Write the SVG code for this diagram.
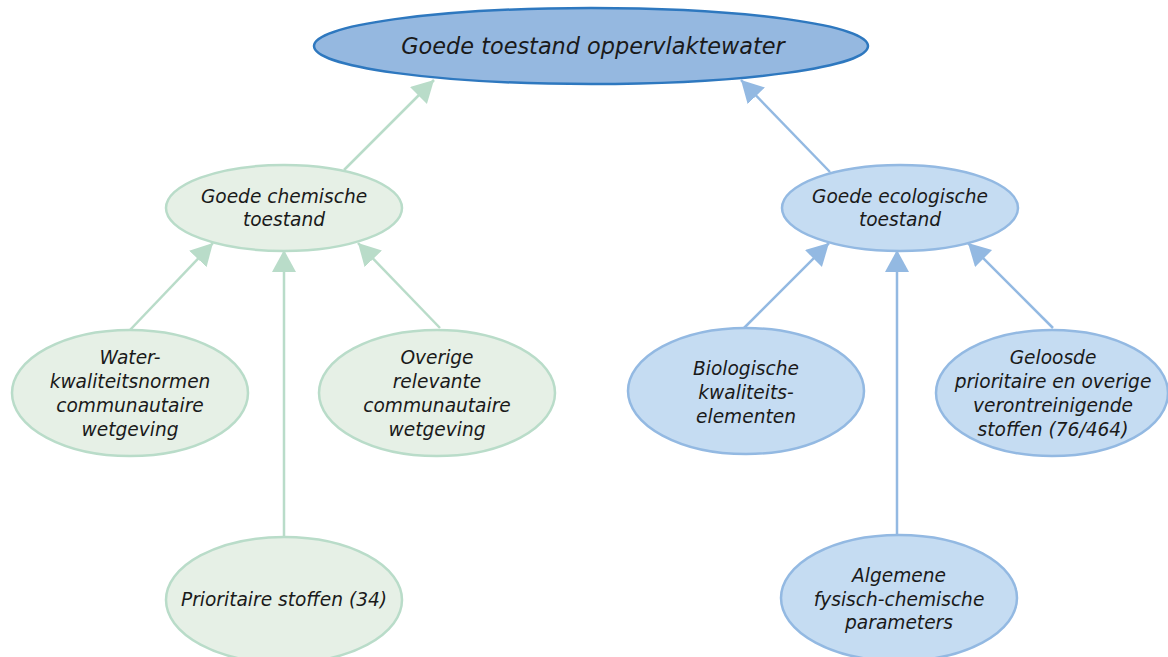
<svg xmlns="http://www.w3.org/2000/svg" width="1168" height="657" viewBox="0 0 1168 657">
  <style>
    text { font-family: "DejaVu Sans", "Liberation Sans", sans-serif; font-style: italic; fill: #1a1a1a; text-anchor: middle; }
    .t0 { font-size: 22.4px; }
    .t1 { font-size: 18.6px; }
    .green { fill: #e6f0e6; stroke: #b9dcc9; stroke-width: 2.5; }
    .blue { fill: #c5dcf2; stroke: #93b9e2; stroke-width: 2.5; }
    .top { fill: #95b8e0; stroke: #2e78bf; stroke-width: 2.5; }
    .cg { stroke: #b9dcc9; stroke-width: 2.5; fill: none; marker-end: url(#ag); }
    .cb { stroke: #93b9e2; stroke-width: 2.5; fill: none; marker-end: url(#ab); }
  </style>
  <defs>
    <marker id="ag" markerUnits="userSpaceOnUse" markerWidth="24" markerHeight="26" refX="22" refY="12" orient="auto" viewBox="0 0 24 26">
      <path d="M0,0 L22,12 L0,24 z" fill="#b9dcc9"/>
    </marker>
    <marker id="ab" markerUnits="userSpaceOnUse" markerWidth="24" markerHeight="26" refX="22" refY="12" orient="auto" viewBox="0 0 24 26">
      <path d="M0,0 L22,12 L0,24 z" fill="#93b9e2"/>
    </marker>
  </defs>
  <rect width="1168" height="657" fill="#ffffff"/>
  <g id="connectors">
    <line class="cg" x1="344" y1="170" x2="434" y2="80"/>
    <line class="cb" x1="830" y1="172" x2="741" y2="80"/>
    <line class="cg" x1="130" y1="330" x2="213" y2="243"/>
    <line class="cg" x1="284" y1="537" x2="284" y2="250"/>
    <line class="cg" x1="440" y1="328" x2="358" y2="243"/>
    <line class="cb" x1="744" y1="328" x2="829" y2="243"/>
    <line class="cb" x1="897" y1="535" x2="897" y2="250"/>
    <line class="cb" x1="1053" y1="328" x2="968" y2="243"/>
  </g>
  <g id="n-top">
    <ellipse class="top" cx="591" cy="46" rx="277" ry="38"/>
    <text class="t0" x="593" y="54">Goede toestand oppervlaktewater</text>
  </g>
  <g id="n-chem">
    <ellipse class="green" cx="284" cy="208" rx="118" ry="43"/>
    <text class="t1" x="284" y="203">Goede chemische</text>
    <text class="t1" x="284" y="226">toestand</text>
  </g>
  <g id="n-eco">
    <ellipse class="blue" cx="900" cy="208" rx="118" ry="43"/>
    <text class="t1" x="900" y="203">Goede ecologische</text>
    <text class="t1" x="900" y="226">toestand</text>
  </g>
  <g id="n-water">
    <ellipse class="green" cx="130" cy="393" rx="118" ry="63"/>
    <text class="t1" x="130" y="364">Water-</text>
    <text class="t1" x="130" y="388">kwaliteitsnormen</text>
    <text class="t1" x="130" y="412">communautaire</text>
    <text class="t1" x="130" y="436">wetgeving</text>
  </g>
  <g id="n-overige">
    <ellipse class="green" cx="437" cy="393" rx="118" ry="63"/>
    <text class="t1" x="437" y="364">Overige</text>
    <text class="t1" x="437" y="388">relevante</text>
    <text class="t1" x="437" y="412">communautaire</text>
    <text class="t1" x="437" y="436">wetgeving</text>
  </g>
  <g id="n-prior">
    <ellipse class="green" cx="284" cy="600" rx="118" ry="63"/>
    <text class="t1" x="284" y="606">Prioritaire stoffen (34)</text>
  </g>
  <g id="n-bio">
    <ellipse class="blue" cx="746" cy="391" rx="118" ry="63"/>
    <text class="t1" x="746" y="375">Biologische</text>
    <text class="t1" x="746" y="399">kwaliteits-</text>
    <text class="t1" x="746" y="423">elementen</text>
  </g>
  <g id="n-geloosd">
    <ellipse class="blue" cx="1052" cy="393" rx="116" ry="63"/>
    <text class="t1" x="1053" y="364">Geloosde</text>
    <text class="t1" x="1053" y="388">prioritaire en overige</text>
    <text class="t1" x="1053" y="412">verontreinigende</text>
    <text class="t1" x="1053" y="436">stoffen (76/464)</text>
  </g>
  <g id="n-alg">
    <ellipse class="blue" cx="899" cy="598" rx="118" ry="63"/>
    <text class="t1" x="899" y="582">Algemene</text>
    <text class="t1" x="899" y="606">fysisch-chemische</text>
    <text class="t1" x="899" y="629">parameters</text>
  </g>
</svg>
